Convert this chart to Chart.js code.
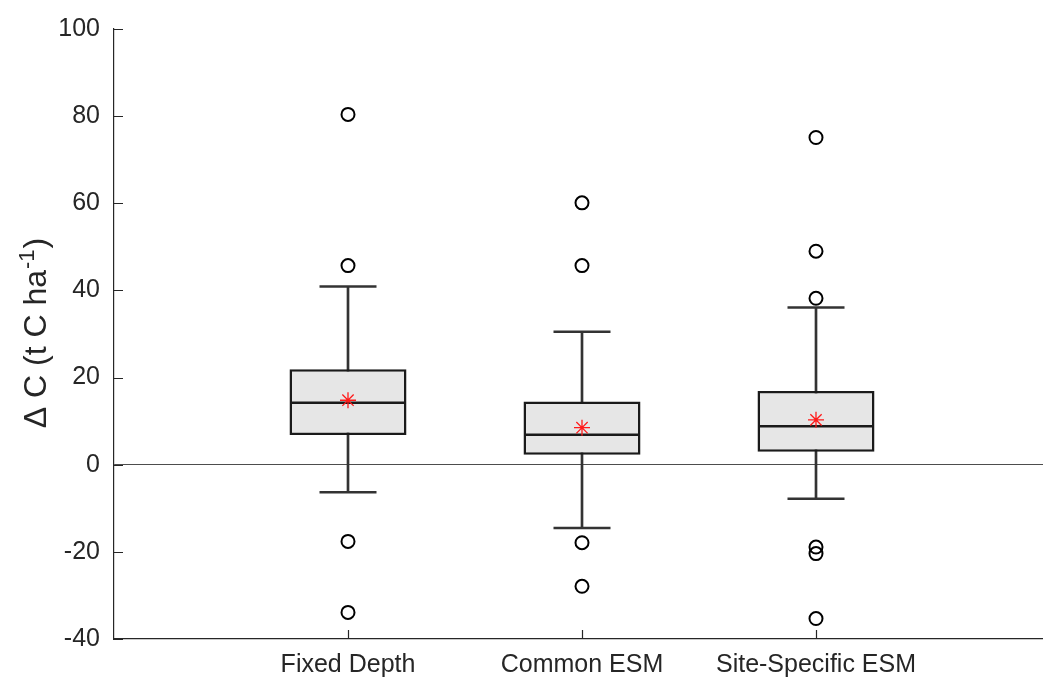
<!DOCTYPE html>
<html>
<head>
<meta charset="utf-8">
<script src="https://cdn.jsdelivr.net/npm/chart.js@4.4.1/dist/chart.umd.min.js"></script>
<style>
  html, body { margin: 0; padding: 0; background: #fff; overflow: hidden; }
  canvas { display: block; }
</style>
</head>
<body>
<canvas id="boxes" width="1050" height="680"></canvas>
<script>
// carbon stock change by method (t C / ha)
var categories = ['Fixed Depth', 'Common ESM', 'Site-Specific ESM'];
var q1 = [6.8, 2.3, 3.0];
var medians = [14.2, 6.9, 8.8];
var q3 = [21.9, 14.5, 16.9];
var means = [14.8, 8.5, 10.3];
var whiskerLow = [-6.3, -14.5, -7.8];
var whiskerHigh = [40.9, 30.5, 36.1];
var outliers = [
    [80.4, 45.7, -17.6, -33.9],
    [60.1, 45.7, -17.9, -27.9],
    [75.1, 49.0, 38.2, -18.9, -20.4, -35.3]
];
var yTicks = [-40, -20, 0, 20, 40, 60, 80, 100];

var ink = '#262626';
var font = "'Liberation Sans', Arial, Helvetica, sans-serif";

function perCat(values) {
    return categories.map(function (c, i) { return { x: c, y: values[i] }; });
}

var outlierPoints = [];
categories.forEach(function (c, i) {
    outliers[i].forEach(function (v) { outlierPoints.push({ x: c, y: v }); });
});

var capPoints = perCat(whiskerLow).concat(perCat(whiskerHigh));

// matlab-style inward tick marks + y label with superscript
var axisExtras = {
    id: 'axisExtras',
    afterDraw: function (chart) {
        var c = chart.ctx, a = chart.chartArea;
        var ys = chart.scales.y, xs = chart.scales.x;
        c.save();
        c.strokeStyle = ink;
        c.lineWidth = 1.2;
        c.beginPath();
        yTicks.forEach(function (v) {
            var py = Math.round(ys.getPixelForValue(v)) + 0.5;
            c.moveTo(a.left, py);
            c.lineTo(a.left + 9, py);
        });
        categories.forEach(function (cat) {
            var px = Math.round(xs.getPixelForValue(cat)) + 0.5;
            c.moveTo(px, a.bottom);
            c.lineTo(px, a.bottom - 9);
        });
        c.stroke();

        var big = '32px ' + font, small = '22px ' + font;
        var head = 'Δ C (t C ha', sup = '-1', tail = ')';
        c.font = big;
        var w1 = c.measureText(head).width, w3 = c.measureText(tail).width;
        c.font = small;
        var w2 = c.measureText(sup).width;
        var total = w1 + w2 + w3;
        c.translate(35, (a.top + a.bottom) / 2);
        c.rotate(-Math.PI / 2);
        c.fillStyle = ink;
        c.textBaseline = 'alphabetic';
        c.textAlign = 'left';
        var x0 = -total / 2;
        c.font = big;
        c.fillText(head, x0, 11);
        c.font = small;
        c.fillText(sup, x0 + w1 + 1, -1);
        c.font = big;
        c.fillText(tail, x0 + w1 + w2 + 2, 11);
        c.restore();
    }
};

var ctx = document.getElementById('boxes').getContext('2d');
var chart = new Chart(ctx, {
    type: 'bar',
    data: {
        labels: [''].concat(categories, ['']),
        datasets: [
            {
                // whisker stems
                type: 'bar',
                data: categories.map(function (c, i) { return { x: c, y: [whiskerLow[i], whiskerHigh[i]] }; }),
                backgroundColor: '#333333',
                borderWidth: 0,
                barThickness: 2,
                grouped: false,
                order: 6
            },
            {
                // boxes
                type: 'bar',
                data: categories.map(function (c, i) { return { x: c, y: [q1[i], q3[i]] }; }),
                backgroundColor: '#e6e6e6',
                borderColor: '#1a1a1a',
                borderWidth: 2.5,
                borderSkipped: false,
                barPercentage: 0.5,
                categoryPercentage: 1,
                grouped: false,
                order: 5
            },
            {
                // whisker caps
                type: 'line',
                data: capPoints,
                showLine: false,
                pointStyle: 'line',
                pointRadius: 28.5,
                pointBorderColor: '#333333',
                pointBorderWidth: 2.5,
                order: 4
            },
            {
                // medians
                type: 'line',
                data: perCat(medians),
                showLine: false,
                pointStyle: 'line',
                pointRadius: 58,
                pointBorderColor: '#1a1a1a',
                pointBorderWidth: 2.5,
                order: 3
            },
            {
                // outliers
                type: 'line',
                data: outlierPoints,
                showLine: false,
                pointStyle: 'circle',
                pointRadius: 6.5,
                pointBackgroundColor: 'rgba(0,0,0,0)',
                pointBorderColor: '#000000',
                pointBorderWidth: 2,
                order: 2
            },
            {
                // means
                type: 'line',
                data: perCat(means),
                showLine: false,
                pointStyle: 'star',
                pointRadius: 8,
                pointBorderColor: '#ff1a1a',
                pointBorderWidth: 1.3,
                order: 1
            }
        ]
    },
    options: {
        responsive: false,
        animation: false,
        layout: { autoPadding: false, padding: { top: 26, right: 0, left: 0, bottom: 0 } },
        plugins: {
            legend: { display: false },
            tooltip: { enabled: false }
        },
        scales: {
            x: {
                type: 'category',
                offset: false,
                grid: { display: false, drawTicks: false },
                border: { display: true, color: ink, width: 1.2 },
                ticks: {
                    color: ink,
                    font: { family: font, size: 25 },
                    padding: 11,
                    autoSkip: false,
                    maxRotation: 0
                },
                afterFit: function (s) {
                    s.height = 41;
                    s.paddingLeft = 0;
                    s.paddingRight = 0;
                }
            },
            y: {
                min: -40,
                max: 100,
                afterBuildTicks: function (s) {
                    s.ticks = yTicks.map(function (v) { return { value: v }; });
                },
                grid: {
                    drawTicks: false,
                    color: function (c) { return c.tick && c.tick.value === 0 ? '#4d4d4d' : 'rgba(0,0,0,0)'; },
                    lineWidth: 1
                },
                border: { display: true, color: ink, width: 1.2 },
                ticks: {
                    color: ink,
                    font: { family: font, size: 25 },
                    padding: 14
                },
                afterFit: function (s) { s.width = 114; }
            }
        }
    },
    plugins: [axisExtras]
});
</script>
</body>
</html>
